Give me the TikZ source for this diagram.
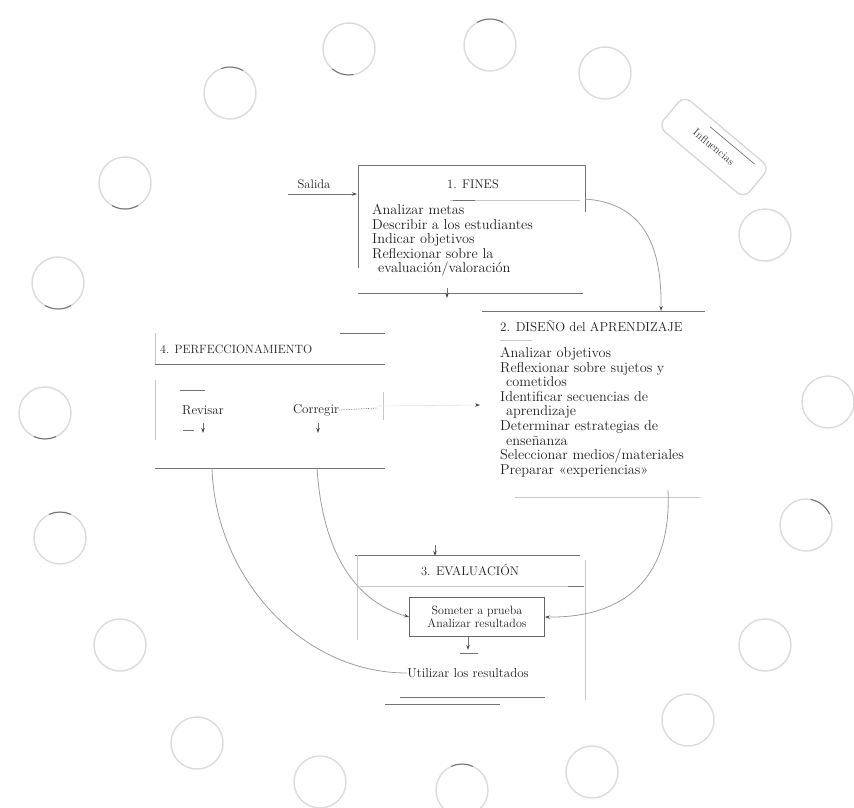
\documentclass[tikz,border=0pt]{standalone}
\usetikzlibrary{arrows.meta,calc}
\begin{document}
\begin{tikzpicture}[x=1pt,y=-1pt,
  txt/.style={font=\fontsize{13}{14.6}\selectfont, text=black!88, inner sep=0pt},
  lst/.style={font=\fontsize{14.3}{14.6}\selectfont, text=black!88, inner sep=0pt},
  ttl/.style={font=\fontsize{12.5}{14}\selectfont, text=black!88, inner sep=0pt},
  ln/.style={draw=black!55, line width=0.7pt},
  faint/.style={draw=black!22, line width=0.7pt},
  curv/.style={draw=black!38, line width=0.8pt},
  ring/.style={circle, draw=black!14, line width=1.4pt, minimum size=52pt, inner sep=0pt},
  darkarc/.style={draw=black!55, line width=1pt},
  tip/.style={-{Stealth[length=5pt,width=3.5pt,color=black!70]}},
]
\useasboundingbox (0,0) rectangle (854,807);

% ring of influences
\node[ring] (c1) at (349,49) {};
\node[ring] (c2) at (490,45) {};
\node[ring] (c3) at (605,73) {};
\node[ring] (c4) at (230,93) {};
\node[ring] (c5) at (125,183) {};
\node[ring] (c6) at (58,283) {};
\node[ring] (c7) at (45,413) {};
\node[ring] (c8) at (60,538) {};
\node[ring] (c9) at (120,645) {};
\node[ring] (c10) at (197,743) {};
\node[ring] (c11) at (320,782) {};
\node[ring] (c12) at (462,790) {};
\node[ring] (c13) at (592,772) {};
\node[ring] (c14) at (688,720) {};
\node[ring] (c15) at (765,645) {};
\node[ring] (c16) at (806,525) {};
\node[ring] (c17) at (828,402) {};
\node[ring] (c18) at (765,235) {};

\draw[darkarc] ([shift={(-120:26)}]c2.center) arc[start angle=-120,end angle=-60,radius=26];
\draw[darkarc] ([shift={(80:26)}]c1.center) arc[start angle=80,end angle=130,radius=26];
\draw[darkarc] ([shift={(-110:26)}]c4.center) arc[start angle=-110,end angle=-60,radius=26];
\draw[darkarc] ([shift={(60:26)}]c5.center) arc[start angle=60,end angle=120,radius=26];
\draw[darkarc] ([shift={(60:26)}]c6.center) arc[start angle=60,end angle=120,radius=26];
\draw[darkarc] ([shift={(65:26)}]c7.center) arc[start angle=65,end angle=115,radius=26];
\draw[darkarc] ([shift={(-115:26)}]c8.center) arc[start angle=-115,end angle=-65,radius=26];
\draw[darkarc] ([shift={(-115:26)}]c12.center) arc[start angle=-115,end angle=-65,radius=26];
\draw[darkarc] ([shift={(75:26)}]c12.center) arc[start angle=75,end angle=105,radius=26];
\draw[darkarc] ([shift={(-80:26)}]c16.center) arc[start angle=-80,end angle=-25,radius=26];

\node[rotate=-40, draw=black!16, line width=1.3pt, rounded corners=9pt,
      minimum width=112pt, minimum height=40pt,
      font=\fontsize{11}{13}\selectfont, text=black!80] (inf) at (714,147) {Influencias};
\begin{scope}[shift={(714,147)}, rotate=-40]
  \draw[ln] (-16,-13) -- (42,-13);
\end{scope}

% 1. FINES
\draw[ln] (358,268) -- (358,165) -- (585,165) -- (585,212);
\node[ttl] (t1) at (473,184) {1. FINES};
\draw[faint] (450,200) -- (580,200);
\draw[ln] (453,200) -- (475,200);
\node[lst, anchor=north west, align=left] (i1) at (372,204)
  {Analizar metas\\Describir a los estudiantes\\Indicar objetivos\\Reflexionar sobre la\\\hspace{6pt}evaluación/valoración};
\draw[ln] (358,293) -- (583,293);
\coordinate (fbot) at (447,288);
\draw[ln, tip] (fbot) -- ++(0,10);

\node[ttl] (salida) at (314,184) {Salida};
\coordinate (sal0) at (288,194);
\coordinate (sal1) at (357,194);
\draw[ln, tip] (sal0) -- (sal1);

% 2. DISEÑO
\draw[ln] (482,311) -- (705,311);
\node[ttl, anchor=west, font=\fontsize{13}{14}\selectfont] (t2) at (500,326) {2. DISEÑO del APRENDIZAJE};
\draw[faint] (500,340) -- (532,340);
\node[lst, anchor=north west, align=left] (i2) at (500,347)
  {Analizar objetivos\\Reflexionar sobre sujetos y\\\hspace{6pt}cometidos\\Identificar secuencias de\\\hspace{6pt}aprendizaje\\Determinar estrategias de\\\hspace{6pt}enseñanza\\Seleccionar medios/materiales\\Preparar «experiencias»};
\draw[faint] (515,497) -- (700,497);

% FINES -> DISEÑO
\coordinate (fout) at (585,199);
\coordinate (din) at (661,311);
\draw[curv, tip] (fout) .. controls (640,203) and (662,240) .. (din);

% 4. PERFECCIONAMIENTO
\draw[ln] (340,333) -- (385,333);
\draw[faint] (155,333) -- (155,364);
\node[anchor=west, font=\fontsize{12}{14}\selectfont, text=black!88, inner sep=0pt] (t4) at (160,349) {4. PERFECCIONAMIENTO};
\draw[ln] (155,364) -- (385,364);
\draw[faint] (383,392) -- (383,420);
\draw[faint] (155,380) -- (155,440);
\draw[ln] (180,390) -- (205,390);
\node[txt] (rev) at (203,410) {Revisar};
\node[txt] (corr) at (316,410) {Corregir};
\draw[ln, densely dotted] (corr.east) -- (377,408);
\draw[ln, tip] (203,423) -- (203,433);
\draw[ln] (183,430) -- (194,430);
\draw[ln, tip] (318,423) -- (318,433);
\draw[ln] (155,468) -- (385,468);

% Corregir -> DISEÑO
\coordinate (dleft) at (480,405);
\draw[draw=black!10, line width=0.6pt, tip] (377,406) -- (dleft);

% 3. EVALUACION
\draw[ln] (355,555) -- (580,555);
\node[ttl] (t3) at (470,570) {3. EVALUACIÓN};
\draw[faint] (360,586) -- (568,586);
\draw[ln] (568,586) -- (584,586);
\draw[faint] (357,555) -- (357,640);
\draw[faint] (585,560) -- (585,700);
\node[draw=black!60, line width=0.7pt, font=\fontsize{12}{13}\selectfont, text=black!88,
      align=center, inner sep=0pt, minimum width=135pt, minimum height=39pt] (sm) at (477,617)
  {Someter a prueba\\Analizar resultados};
\node[txt] (util) at (468,673) {Utilizar los resultados};
\draw[ln, tip] (sm.south -| util.north) -- ++(0,13);
\draw[ln] (460,653) -- (478,653);
\draw[ln] (400,697) -- (545,697);
\draw[ln] (385,704) -- (500,704);

% DISEÑO -> EVALUACION
\coordinate (etop) at (435,545);
\draw[ln, tip] (etop) -- (435,556);
\coordinate (dbot) at (668,490);
\draw[curv, tip] (dbot) .. controls (672,578) and (625,618) .. (sm.east);

% PERFECCIONAMIENTO <- EVALUACION curves
\coordinate (p1) at (212,468);
\coordinate (p2) at (317,468);
\draw[curv] (p1) .. controls (215,575) and (300,673) .. (util.west);
\draw[curv, tip] (p2) .. controls (322,545) and (350,600) .. (sm.west);
\end{tikzpicture}
\end{document}
